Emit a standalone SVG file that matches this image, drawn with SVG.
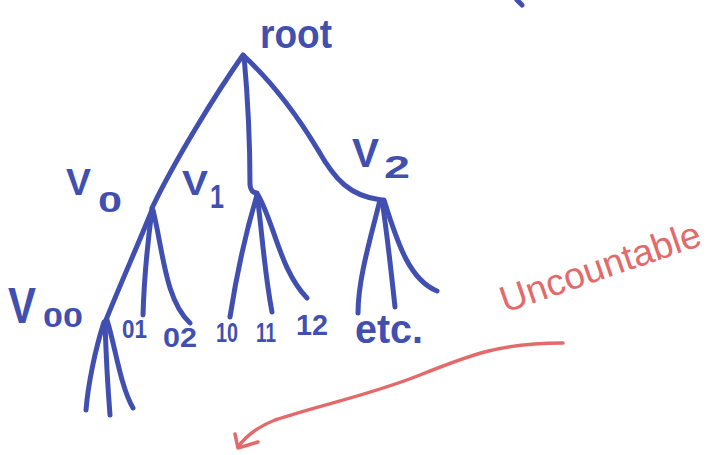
<svg xmlns="http://www.w3.org/2000/svg" width="727" height="455" viewBox="0 0 727 455">
  <style>
    .b { fill: none; stroke: #4150B0; stroke-width: 5; stroke-linecap: round; stroke-linejoin: round; }
    .r { fill: none; stroke: #E36A6A; stroke-width: 3.5; stroke-linecap: round; stroke-linejoin: round; }
    .t { font-family: "Liberation Sans", Arial, sans-serif; font-weight: bold; fill: #4150B0; }
    .rt { font-family: "Liberation Sans", Arial, sans-serif; fill: #E36A6A; }
  </style>
  <rect width="727" height="455" fill="#ffffff"/>

  <g id="connectors">
    <!-- root to level 1 -->
    <path class="b" d="M243,55 C 215,95 175,160 152,208"/>
    <path class="b" d="M244,56 C 248,100 250,150 250,185 Q 251,193 257,193"/>
    <path class="b" d="M244,56 C 275,85 300,120 318,150 C 335,180 350,196 381,200"/>
    <!-- V0 children -->
    <path class="b" d="M152,210 C 140,240 120,285 106,320"/>
    <path class="b" d="M152,210 C 148,240 144,280 143,315"/>
    <path class="b" d="M153,210 C 163,250 165,300 190,323"/>
    <!-- V1 children -->
    <path class="b" d="M257,195 C 248,225 238,265 230,317"/>
    <path class="b" d="M257,195 C 262,230 264,270 272,312"/>
    <path class="b" d="M258,195 C 275,225 280,270 307,298"/>
    <!-- V2 children -->
    <path class="b" d="M380,200 C 370,240 358,280 358,313"/>
    <path class="b" d="M382,200 C 388,240 392,280 395,307"/>
    <path class="b" d="M384,200 C 398,245 410,280 437,291"/>
    <!-- V00 children -->
    <path class="b" d="M104,322 C 95,350 88,385 86,410"/>
    <path class="b" d="M105,322 C 106,355 108,390 110,415"/>
    <path class="b" d="M107,320 C 115,345 120,385 133,408"/>
    <!-- small tick at top -->
    <path class="b" d="M517,0 L522,5"/>
    <!-- red arrow -->
    <path class="r" d="M563,343 C 500,343 470,355 420,375 C 370,395 320,405 275,420 C 255,428 245,437 238,447"/>
    <path class="r" d="M235,434 L238,448 L258,442"/>
  </g>

  <g id="root">
    <text class="t" x="260" y="48" font-size="40" textLength="72" lengthAdjust="spacingAndGlyphs">root</text>
  </g>
  <g id="v0">
    <text class="t" x="66" y="195" font-size="37" textLength="25" lengthAdjust="spacingAndGlyphs">V</text>
    <text class="t" x="98" y="212" font-size="30" textLength="24" lengthAdjust="spacingAndGlyphs">0</text>
  </g>
  <g id="v1">
    <text class="t" x="182" y="195" font-size="35" textLength="26" lengthAdjust="spacingAndGlyphs">V</text>
    <text class="t" x="210" y="208" font-size="34" textLength="14" lengthAdjust="spacingAndGlyphs">1</text>
  </g>
  <g id="v2">
    <text class="t" x="352" y="167" font-size="40" textLength="27" lengthAdjust="spacingAndGlyphs">V</text>
    <text class="t" x="384" y="178" font-size="32" textLength="26" lengthAdjust="spacingAndGlyphs">2</text>
  </g>
  <g id="v00">
    <text class="t" x="8" y="323" font-size="50" textLength="28" lengthAdjust="spacingAndGlyphs">V</text>
    <text class="t" x="43" y="327" font-size="28" textLength="40" lengthAdjust="spacingAndGlyphs">00</text>
  </g>
  <g id="n01">
    <text class="t" x="122" y="338" font-size="25" textLength="25" lengthAdjust="spacingAndGlyphs">01</text>
  </g>
  <g id="n02">
    <text class="t" x="163" y="347" font-size="27" textLength="34" lengthAdjust="spacingAndGlyphs">02</text>
  </g>
  <g id="n10">
    <text class="t" x="216" y="342" font-size="27" textLength="22" lengthAdjust="spacingAndGlyphs">10</text>
  </g>
  <g id="n11">
    <text class="t" x="256" y="342" font-size="28" textLength="20" lengthAdjust="spacingAndGlyphs">11</text>
  </g>
  <g id="n12">
    <text class="t" x="296" y="335" font-size="30" textLength="32" lengthAdjust="spacingAndGlyphs">12</text>
  </g>
  <g id="etc">
    <text class="t" x="355" y="343" font-size="40" textLength="68" lengthAdjust="spacingAndGlyphs">etc.</text>
  </g>
  <g id="uncountable">
    <text class="rt" x="505" y="313" font-size="37" textLength="210" lengthAdjust="spacingAndGlyphs" transform="rotate(-19 505 313)">Uncountable</text>
  </g>
</svg>
